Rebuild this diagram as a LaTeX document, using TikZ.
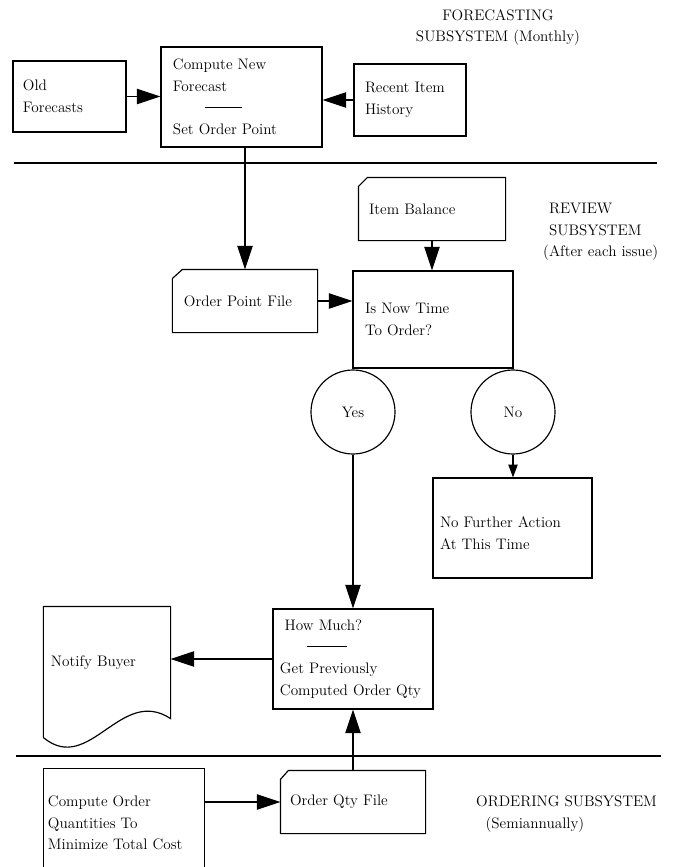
\documentclass[tikz,border=0pt]{standalone}
\usepackage{amsmath,amssymb}
\usetikzlibrary{arrows.meta,calc}
\newcommand{\flowfont}{\fontsize{13}{18.5}\selectfont}
\tikzset{
box/.style={draw, line width=1pt, align=left, font=\flowfont, inner ysep=0pt},
card/.style={box, draw=none},
yesno/.style={draw, circle, line width=1pt, minimum size=2.52cm, inner sep=0pt, font=\flowfont},
flow/.style={line width=1pt, -{Triangle[length=20pt,width=13pt]}},
shortflow/.style={line width=1pt, -{Triangle[length=11pt,width=8pt]}},
divider/.style={line width=1.3pt},
heading/.style={font=\flowfont, align=left, inner sep=0pt}
}
\begin{document}
\begin{tikzpicture}[x=0.03cm, y=-0.03cm]
\useasboundingbox (0,0) rectangle (684,867);
\fill[white] (0,0) rectangle (684,867);
\coordinate (bottom) at (0,867);

% forecasting
\node[heading, align=center] (fctitle) at (498,27.5) {FORECASTING\\SUBSYSTEM (Monthly)};
\node[box, text width=2.79cm, inner xsep=0.3cm, minimum height=2.13cm] (old) at (69.5,96.5) {Old\\Forecasts};
\node[box, text width=4.11cm, inner xsep=0.36cm, minimum height=3cm] (comp) at (241.5,97)
  {Compute New\\Forecast\\\hspace*{27pt}\rule[4.5pt]{32pt}{0.8pt}\\Set Order Point};
\node[box, text width=2.7cm, inner xsep=0.33cm, minimum height=2.16cm] (recent) at (410,100) {Recent Item\\History};

\draw[divider] (14,163) -- (657,163);

% review
\node[card, text width=3.78cm, inner xsep=0.3cm, minimum height=1.86cm] (ib) at (432,209) {Item Balance};
\draw[line width=1pt] (ib.south west) -- ($(ib.north west)+(0,9)$) -- ($(ib.north west)+(9,0)$) -- (ib.north east) -- (ib.south east) -- cycle;
\node[heading, anchor=west] (revtitle) at (543,232) {\hspace*{5pt}REVIEW\\\hspace*{5pt}SUBSYSTEM\\(After each issue)};
\node[card, text width=3.66cm, inner xsep=0.33cm, minimum height=1.86cm] (opf) at (245,301) {Order Point File};
\draw[line width=1pt] (opf.south west) -- ($(opf.north west)+(0,9)$) -- ($(opf.north west)+(10,0)$) -- (opf.north east) -- (opf.south east) -- cycle;
\node[box, text width=4.08cm, inner xsep=0.36cm, minimum height=2.91cm] (isnow) at (433,319.5) {Is Now Time\\To Order?};
\node[yesno] (yes) at (353,412) {Yes};
\node[yesno] (no) at (513,412) {No};
\node[box, text width=4.35cm, inner xsep=0.21cm, minimum height=3cm] (nofurther) at (512.5,528) {\mbox{}\\No Further Action\\At This Time};
\node[box, text width=4.38cm, inner xsep=0.21cm, minimum height=3cm] (howmuch) at (353,659)
  {\hspace*{4pt}How Much?\\\hspace*{23pt}\rule[4.5pt]{34pt}{0.8pt}\\Get Previously\\Computed Order Qty};
\node[card, text width=3.36cm, inner xsep=0.21cm, minimum height=3.33cm] (notify) at (107,662.5) {Notify Buyer};
\draw[line width=1pt] (notify.north west) -- (notify.north east) -- (notify.south east)
  .. controls +(-50,-33) and +(46,38) .. ($(notify.south west)+(0,19)$) -- cycle;

\draw[divider] (16,756) -- (661,756);

% ordering
\node[card, text width=4.56cm, inner xsep=0.12cm, minimum height=3.24cm] (cq) at (124,823) {Compute Order\\Quantities To\\Minimize Total Cost};
\draw[line width=1pt] (cq.north west |- bottom) -- (cq.north west) -- (cq.north east) -- (cq.north east |- bottom);
\node[card, text width=3.78cm, inner xsep=0.27cm, minimum height=1.86cm] (oqf) at (353,802) {Order Qty File};
\draw[line width=1pt] (oqf.south west) -- ($(oqf.north west)+(0,9)$) -- ($(oqf.north west)+(8,0)$) -- (oqf.north east) -- (oqf.south east) -- cycle;
\node[heading, anchor=west] (ordtitle) at (476,814) {ORDERING SUBSYSTEM\\\hspace*{8pt}(Semiannually)};

\draw[flow] (old.east) -- (old.east -| comp.west);
\draw[flow] (recent.west) -- (recent.west -| comp.east);
\draw[flow] (opf.north |- comp.south) -- (opf.north);
\draw[flow] (ib.south) -- (ib.south |- isnow.north);
\draw[flow] (opf.east) -- (opf.east -| isnow.west);
\draw[flow] (yes.south) -- (yes.south |- howmuch.north);
\draw[shortflow] (no.south) -- (no.south |- nofurther.north);
\draw[flow] (howmuch.west) -- (howmuch.west -| notify.east);
\draw[flow] (cq.east |- oqf.west) -- (oqf.west);
\draw[flow] (oqf.north) -- (oqf.north |- howmuch.south);
\end{tikzpicture}
\end{document}
